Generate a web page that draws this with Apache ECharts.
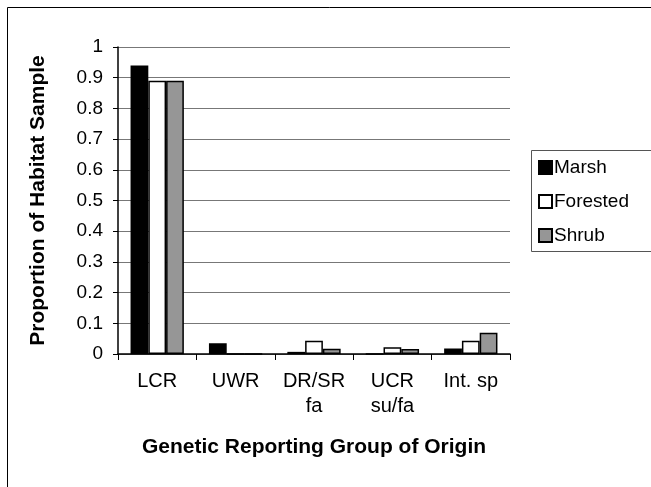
<!DOCTYPE html>
<html>
<head>
<meta charset="utf-8">
<script src="https://cdn.jsdelivr.net/npm/echarts@6/dist/echarts.min.js"></script>
<style>html,body{margin:0;padding:0;background:#fff}#c{width:651px;height:487px}</style>
</head>
<body>
<div id="c"></div>
<script>
const categories = ["LCR", "UWR", "DR/SR\nfa", "UCR\nsu/fa", "Int. sp"];
const seriesNames = ["Marsh", "Forested", "Shrub"];
const marsh = [0.94, 0.035, 0.007, 0, 0.018];
const forested = [0.89, 0, 0.043, 0.022, 0.043];
const shrub = [0.89, 0, 0.017, 0.016, 0.069];
const colors = ["#000000", "#ffffff", "#969696"];
const values = [marsh, forested, shrub];

const font = "Liberation Sans, Arial, sans-serif";
const chart = echarts.init(document.getElementById('c'), null, {renderer: 'canvas'});
chart.setOption({
  animation: false,
  backgroundColor: '#fff',
  textStyle: {fontFamily: font},
  graphic: [
    {type: 'rect', shape: {x: 7.5, y: 7.5, width: 700, height: 600}, style: {fill: 'none', stroke: '#000', lineWidth: 1}, z: 0, silent: true},
    {type: 'rect', shape: {x: 531.5, y: 150.5, width: 200, height: 101}, style: {fill: '#fff', stroke: '#555', lineWidth: 1}, z: 1, silent: true}
  ],
  legend: {
    orient: 'vertical',
    left: 538,
    top: 158,
    padding: 0,
    itemWidth: 13,
    itemHeight: 13,
    itemGap: 15,
    icon: 'rect',
    textStyle: {fontSize: 19, color: '#000', fontFamily: font, padding: [0,0,0,-3]},
    data: seriesNames,
    z: 5
  },
  grid: {left: 118, top: 47, right: 141, bottom: 133, containLabel: false},
  xAxis: {
    type: 'category',
    data: categories,
    name: 'Genetic Reporting Group of Origin',
    nameLocation: 'middle',
    nameGap: 83,
    nameTextStyle: {fontSize: 21, fontWeight: 'bold', color: '#000', fontFamily: font, verticalAlign: 'top'},
    axisLine: {lineStyle: {color: '#000', width: 1.5}},
    axisTick: {show: true, length: 6, alignWithLabel: false, lineStyle: {color: '#000', width: 1}},
    axisLabel: {fontSize: 20, color: '#000', margin: 15, lineHeight: 25, fontFamily: font, interval: 0},
    splitLine: {show: false}
  },
  yAxis: {
    type: 'value',
    min: 0, max: 1, interval: 0.1,
    name: 'Proportion of Habitat Sample',
    nameLocation: 'middle',
    nameGap: 69,
    nameRotate: 90,
    nameTextStyle: {fontSize: 21, fontWeight: 'bold', color: '#000', fontFamily: font},
    axisLine: {show: true, lineStyle: {color: '#000', width: 1.5}},
    axisTick: {show: true, length: 5, lineStyle: {color: '#000'}},
    axisLabel: {fontSize: 19, color: '#000', margin: 15, fontFamily: font, formatter: v => String(Math.round(v*10)/10)},
    splitLine: {show: true, lineStyle: {color: '#777', width: 1}}
  },
  series: seriesNames.map((n, i) => ({
    name: n,
    type: 'bar',
    data: values[i],
    barGap: '0%',
    barCategoryGap: '32%',
    itemStyle: {color: colors[i], borderColor: '#000', borderWidth: 1.5}
  }))
});
</script>
</body>
</html>
